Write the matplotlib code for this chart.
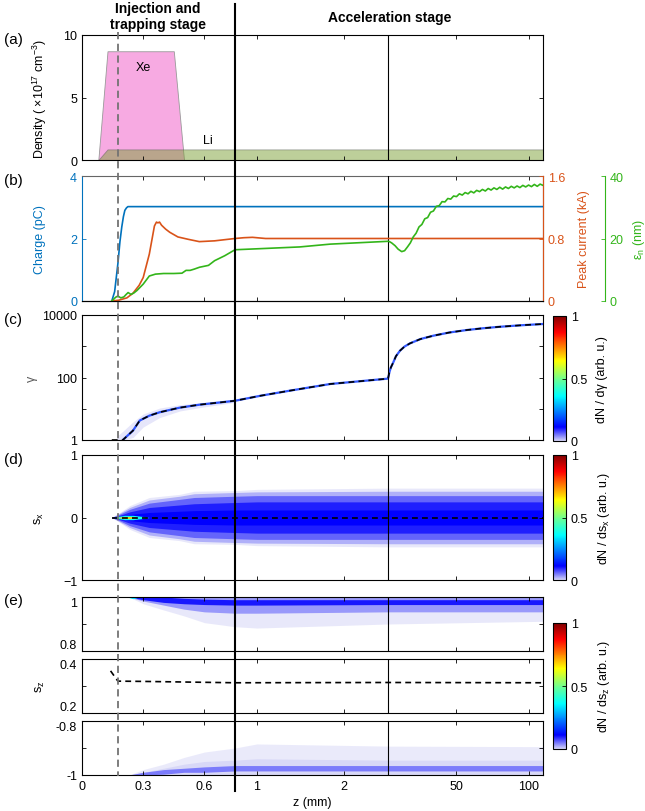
import numpy as np
import matplotlib
matplotlib.use('Agg')
import matplotlib.pyplot as plt
from matplotlib.colors import LinearSegmentedColormap, Normalize
from matplotlib.cm import ScalarMappable
from matplotlib.lines import Line2D

plt.rcParams['font.family'] = ['Liberation Sans', 'DejaVu Sans']
plt.rcParams['font.size'] = 9
plt.rcParams['mathtext.fontset'] = 'custom'
plt.rcParams['mathtext.rm'] = 'Liberation Sans'
plt.rcParams['mathtext.it'] = 'Liberation Sans:italic'
plt.rcParams['axes.linewidth'] = 0.8

#%% Data

# broken z axis: three segments of equal width
z_breaks = [0, 0.75, 2.5, 110]
z_ticks = [0, 0.3, 0.6, 1, 2, 50, 100]
z_ticklabels = ['0', '0.3', '0.6', '1', '2', '50', '100']
stage_boundary = 0.75
injection_z = 0.176
section_z = 2.5

# (a) gas density profiles (x1e17 cm^-3)
xe_z = [0.08, 0.125, 0.45, 0.5]
xe_n = [0, 8.7, 8.7, 0]
li_z = [0.08, 0.125, 110]
li_n = [0, 0.85, 0.85]

# (b) charge, peak current, emittance
charge_z = [0.146, 0.16, 0.176, 0.186, 0.195, 0.203, 0.21, 0.218, 0.225, 110]
charge_pC = [0, 0.3, 1.2, 1.9, 2.37, 2.7, 2.9, 2.98, 3.02, 3.02]

current_z = [0.146, 0.18, 0.22, 0.25, 0.28, 0.30, 0.33, 0.355, 0.365, 0.372,
             0.38, 0.39, 0.41, 0.43, 0.47, 0.52, 0.575, 0.65, 0.75, 0.85,
             0.95, 1.1, 1.3, 2.5, 110]
current_kA = [0, 0.01, 0.04, 0.1, 0.2, 0.3, 0.6, 0.96, 1.01, 1.0,
              1.01, 0.97, 0.92, 0.88, 0.82, 0.79, 0.76, 0.77, 0.80, 0.81,
              0.815, 0.80, 0.80, 0.80, 0.80]

emit_z = [0.146, 0.165, 0.176, 0.19, 0.205, 0.215, 0.226, 0.24, 0.255, 0.27,
          0.3, 0.33, 0.36, 0.40, 0.45, 0.49, 0.51, 0.53, 0.55, 0.576,
          0.62, 0.65, 0.70, 0.75, 1.0, 1.49, 1.84, 2.5, 3.5, 5.0,
          7.4, 9.5, 12, 14, 16, 18, 20, 22, 24, 26,
          28, 30, 32, 34, 36, 38, 40, 42, 44, 46,
          48, 50, 52, 54, 56, 58, 60, 62, 64, 66,
          68, 70, 72, 74, 76, 78, 80, 82, 84, 86,
          88, 90, 92, 94, 96, 98, 100, 102, 104, 106,
          108, 110]
emit_nm = [0, 1.2, 1.6, 1.0, 1.3, 2.0, 2.7, 2.1, 2.6, 3.4,
           5.4, 8.0, 8.6, 8.8, 8.8, 8.9, 9.8, 9.8, 10.2, 10.8,
           11.4, 12.9, 14.5, 16.4, 16.7, 17.3, 18.2, 19.1, 19.0, 18.6,
           17.7, 16.6, 15.8, 16.1, 17.3, 18.6, 20.5, 21.7, 23.7, 24.5,
           26.3, 26.7, 28.4, 28.8, 30.3, 30.5, 31.8, 31.7, 32.8, 32.6,
           33.6, 33.4, 34.3, 33.9, 34.7, 34.3, 35.1, 34.6, 35.4, 35.0,
           35.7, 35.2, 36.0, 35.5, 36.2, 35.7, 36.4, 35.8, 36.5, 36.0,
           36.7, 36.2, 36.8, 36.3, 37.0, 36.5, 37.1, 36.6, 37.3, 36.7,
           37.4, 37.0]

# (c) mean Lorentz factor and spread
gamma_z = [0.146, 0.2, 0.25, 0.283, 0.33, 0.38, 0.478, 0.576, 0.75, 1.04,
           1.38, 1.84, 2.5, 2.7, 3.5, 4.5, 6.2, 8, 10.8, 14,
           17.8, 25, 34, 45, 57, 68, 80, 95, 110]
gamma_mean = [1, 1, 2, 4.2, 6, 7.7, 10.8, 13.5, 18, 26,
              38, 62, 92, 100, 150, 210, 307, 480, 720, 980,
              1240, 1700, 2180, 2750, 3300, 3750, 4200, 4700, 5150]
halo_z = [0.17, 0.2, 0.25, 0.3, 0.38, 0.48, 0.6, 0.75]
halo_lo = [1, 1, 1.2, 2.6, 5.2, 8.5, 11.5, 16]
halo_hi = [1.3, 1.9, 3.8, 6.8, 10.5, 13.5, 16, 20]

# (d) s_x distribution: half widths of density levels
sx_z = [0.146, 0.18, 0.234, 0.33, 0.478, 0.55, 0.75, 1.0, 2.5, 110]
sx_faint = [0, 0.07, 0.19, 0.32, 0.37, 0.42, 0.43, 0.45, 0.47, 0.47]
sx_light = [0, 0.06, 0.16, 0.28, 0.34, 0.38, 0.40, 0.41, 0.42, 0.42]
sx_mid = [0, 0.045, 0.13, 0.23, 0.29, 0.32, 0.34, 0.35, 0.35, 0.35]
sx_core = [0, 0.03, 0.09, 0.16, 0.2, 0.22, 0.24, 0.25, 0.25, 0.25]
sx_inner = [0, 0.02, 0.05, 0.08, 0.1, 0.11, 0.12, 0.12, 0.12, 0.12]
hot_z = [0.155, 0.18, 0.21, 0.25, 0.29, 0.33]
hot_w = [0.0, 0.02, 0.035, 0.035, 0.02, 0.0]
hotcore_z = [0.175, 0.2, 0.24, 0.27]
hotcore_w = [0.0, 0.015, 0.014, 0.0]
sx_mean_z = [0.146, 110]
sx_mean = [0, 0]

# (e) s_z distribution near +1 and -1, and mean
sz_z = [0.23, 0.3, 0.4, 0.5, 0.6, 0.75, 1.0, 2.5, 110]
top_faint = [1.0, 0.975, 0.952, 0.93, 0.905, 0.89, 0.885, 0.90, 0.91]
top_mid = [1.0, 0.985, 0.97, 0.955, 0.945, 0.94, 0.94, 0.945, 0.945]
top_core_lo = [1.0, 0.99, 0.98, 0.975, 0.972, 0.97, 0.97, 0.972, 0.972]
top_core_hi = [1.0, 1.0, 1.0, 0.995, 0.992, 0.99, 0.99, 0.99, 0.99]
bot_faint = [-1.0, -0.98, -0.96, -0.935, -0.915, -0.9, -0.885, -0.893, -0.895]
bot_mid = [-1.0, -0.99, -0.975, -0.96, -0.95, -0.945, -0.94, -0.945, -0.945]
bot_core_lo = [-1.0, -1.0, -0.997, -0.99, -0.99, -0.985, -0.985, -0.985, -0.985]
bot_core_hi = [-1.0, -0.99, -0.98, -0.975, -0.97, -0.965, -0.965, -0.965, -0.965]
sz_mean_z = [0.14, 0.176, 0.3, 0.75, 2.5, 110]
sz_mean = [0.356, 0.318, 0.317, 0.312, 0.313, 0.312]

#%% Colours and colormap

blue = '#0072BD'
orange = '#D95319'
green = '#33B51A'
xe_col = '#F7AAE2'
li_col = (125/255, 161/255, 55/255)

cmap = LinearSegmentedColormap.from_list('lavjet', [
    (0.0, (0.84, 0.84, 0.97)),
    (0.11, (0.0, 0.0, 1.0)),
    (0.36, (0.0, 1.0, 1.0)),
    (0.5, (0.45, 1.0, 0.55)),
    (0.64, (1.0, 1.0, 0.0)),
    (0.87, (1.0, 0.0, 0.0)),
    (1.0, (0.5, 0.0, 0.0))])

#%% Layout helpers

W, H = 645, 812
L, R = 82, 543
u_breaks = [0, 153, 306, R - L]


def fwd(z):
    return np.interp(z, z_breaks, u_breaks)


def inv(u):
    return np.interp(u, u_breaks, z_breaks)


fig = plt.figure(figsize=(W / 100, H / 100), dpi=100)


def px_axes(t, b, l=L, r=R):
    return fig.add_axes([l / W, 1 - b / H, (r - l) / W, (b - t) / H])


def style(ax, labels=False, right=True):
    ax.set_xscale('function', functions=(fwd, inv))
    ax.set_xlim(0, 110)
    ax.set_xticks(z_ticks)
    ax.set_xticklabels(z_ticklabels if labels else [])
    ax.tick_params(direction='in', top=True, right=right, length=3,
                   width=0.6, labelsize=9)
    ax.axvline(section_z, color='k', lw=0.8, zorder=5)


def band(ax, z, lo, hi, lev, alpha=1.0):
    ax.fill_between(z, lo, hi, color=cmap(lev), alpha=alpha, lw=0)


# (a)
ax_a = px_axes(36, 161)
style(ax_a)
ax_a.fill_between(xe_z, 0, xe_n, facecolor=xe_col, edgecolor='0.6', lw=0.6)
ax_a.fill_between(li_z, 0, li_n, facecolor=li_col, alpha=0.5,
                  edgecolor='0.35', lw=0.6)
ax_a.text(0.3, 7.45, 'Xe', ha='center', va='center', fontsize=9)
ax_a.text(0.618, 1.6, 'Li', ha='center', va='center', fontsize=9)
ax_a.set_ylim(0, 10)
ax_a.set_yticks([0, 5, 10])
ax_a.set_ylabel('Density ( ×10$^{17}$ cm$^{-3}$)')
ax_a.yaxis.set_label_coords(-0.072, 0.5)

# (b)
ax_b = px_axes(177, 302)
style(ax_b, right=False)
ax_b.plot(charge_z, charge_pC, color=blue, lw=1.2)
ax_b.set_ylim(0, 4)
ax_b.set_yticks([0, 2, 4])
ax_b.tick_params(axis='y', colors=blue)
ax_b.spines['left'].set_color(blue)
ax_b.spines['top'].set_color('0.4')
ax_b.set_ylabel('Charge (pC)', color=blue)
ax_b.yaxis.set_label_coords(-0.078, 0.5)

ax_b2 = ax_b.twinx()
ax_b2.plot(current_z, current_kA, color=orange, lw=1.2)
ax_b2.set_ylim(0, 1.6)
ax_b2.set_yticks([0, 0.8, 1.6])
ax_b2.set_yticklabels(['0', '0.8', '1.6'])
ax_b2.tick_params(axis='y', colors=orange, direction='in', length=3, width=0.6)
ax_b2.spines['right'].set_color(orange)
ax_b2.spines['left'].set_visible(False)
ax_b2.spines['top'].set_visible(False)
ax_b2.set_ylabel('Peak current (kA)', color=orange)
ax_b2.yaxis.set_label_coords(1.075, 0.5)

ax_b3 = ax_b.twinx()
ax_b3.plot(emit_z, emit_nm, color=green, lw=1.2)
ax_b3.set_ylim(0, 40)
ax_b3.set_yticks([0, 20, 40])
ax_b3.spines['right'].set_position(('axes', 1.134))
ax_b3.spines['right'].set_color(green)
for s in ['left', 'top', 'bottom']:
    ax_b3.spines[s].set_visible(False)
ax_b3.tick_params(axis='y', colors=green, direction='in', length=3, width=0.6)
ax_b3.set_ylabel('ε$_{\\rm n}$ (nm)', color=green)
ax_b3.yaxis.set_label_coords(1.19, 0.5)

# (c)
ax_c = px_axes(316, 441)
style(ax_c)
ax_c.set_yscale('log')
band(ax_c, halo_z, halo_lo, halo_hi, 0.0, alpha=0.6)
ax_c.plot(gamma_z[1:], gamma_mean[1:], color=cmap(0.16), lw=1.6, alpha=0.8,
          solid_capstyle='butt')
ax_c.plot(gamma_z, gamma_mean, color='k', ls='--', lw=1.2, dashes=(3.5, 2.5))
ax_c.set_ylim(1, 1e4)
ax_c.set_yticks([1, 10, 100, 1000, 10000])
ax_c.set_yticklabels(['1', '', '100', '', '10000'])
ax_c.yaxis.set_minor_locator(matplotlib.ticker.NullLocator())
ax_c.set_ylabel('γ', color='0.35')
ax_c.yaxis.set_label_coords(-0.095, 0.5)

# (d)
ax_d = px_axes(456, 581)
style(ax_d)
for w, lev, al in [(sx_faint, 0.0, 0.55), (sx_light, 0.02, 1.0),
                   (sx_mid, 0.06, 1.0), (sx_core, 0.095, 1.0),
                   (sx_inner, 0.11, 1.0)]:
    band(ax_d, sx_z, -np.array(w), w, lev, alpha=al)
band(ax_d, hot_z, -np.array(hot_w), hot_w, 0.38)
band(ax_d, hotcore_z, -np.array(hotcore_w), hotcore_w, 0.68)
ax_d.plot(sx_mean_z, sx_mean, color='k', ls='--', lw=1.2, dashes=(3.5, 2.5))
ax_d.set_ylim(-1, 1)
ax_d.set_yticks([-1, 0, 1])
ax_d.set_ylabel('s$_{\\rm x}$')
ax_d.yaxis.set_label_coords(-0.078, 0.5)

# (e) three stacked windows
ax_e1 = px_axes(598, 652)
style(ax_e1)
band(ax_e1, sz_z, top_faint, 1, 0.0, alpha=0.55)
band(ax_e1, sz_z, top_mid, 1, 0.035)
band(ax_e1, sz_z, top_core_lo, top_core_hi, 0.1)
band(ax_e1, [0.22, 0.25, 0.28], [1, 0.994, 1], 1, 0.35)
ax_e1.set_ylim(0.8, 1)
ax_e1.set_yticks([0.8, 0.9, 1])
ax_e1.set_yticklabels(['0.8', '', '1'])
ax_e1.get_yticklabels()[0].set_va('bottom')
ax_e1.get_yticklabels()[2].set_va('top')

ax_e2 = px_axes(660, 714)
style(ax_e2)
ax_e2.plot(sz_mean_z, sz_mean, color='k', ls='--', lw=1.2, dashes=(3.5, 2.5))
ax_e2.set_ylim(0.2, 0.4)
ax_e2.set_yticks([0.2, 0.3, 0.4])
ax_e2.set_yticklabels(['0.2', '', '0.4'])
ax_e2.get_yticklabels()[0].set_va('bottom')
ax_e2.get_yticklabels()[2].set_va('top')
ax_e2.set_ylabel('s$_{\\rm z}$')
ax_e2.yaxis.set_label_coords(-0.076, 0.5)

ax_e3 = px_axes(722, 776)
style(ax_e3, labels=True)
band(ax_e3, sz_z, -1, bot_faint, 0.0, alpha=0.5)
band(ax_e3, sz_z, -1, bot_mid, 0.0, alpha=0.9)
band(ax_e3, sz_z, bot_core_lo, bot_core_hi, 0.05)
ax_e3.set_ylim(-1, -0.8)
ax_e3.set_yticks([-1, -0.9, -0.8])
ax_e3.set_yticklabels(['-1', '', '-0.8'])
ax_e3.get_yticklabels()[2].set_va('top')
ax_e3.set_xlabel('z (mm)', labelpad=3)

# colorbars
sm = ScalarMappable(norm=Normalize(0, 1), cmap=cmap)
for (t, b), lab in [((317, 442), 'dN / dγ (arb. u.)'),
                    ((456, 581), 'dN / ds$_{\\rm x}$ (arb. u.)'),
                    ((624, 750), 'dN / ds$_{\\rm z}$ (arb. u.)')]:
    cax = px_axes(t, b, l=553, r=566)
    cb = fig.colorbar(sm, cax=cax, ticks=[0, 0.5, 1])
    cb.ax.set_yticklabels(['0', '0.5', '1'])
    cb.ax.tick_params(direction='in', length=3, width=0.6, labelsize=9)
    cb.outline.set_linewidth(0.8)
    cb.set_label(lab, labelpad=6)

# vertical markers across all panels
xb = (L + fwd(stage_boundary)) / W
fig.add_artist(Line2D([xb, xb], [1 - 5 / H, 1 - 792 / H], color='k', lw=1.5))
xi = (L + fwd(injection_z)) / W
fig.add_artist(Line2D([xi, xi], [1 - 33 / H, 1 - 777 / H], color='0.45',
                      lw=1.3, ls=(0, (4, 2.5))))

# headers and panel letters
fig.text(158 / W, 1 - 17 / H, 'Injection and\ntrapping stage', ha='center',
         va='center', fontsize=10, fontweight='bold', linespacing=1.15)
fig.text(390 / W, 1 - 18 / H, 'Acceleration stage', ha='center', va='center',
         fontsize=10, fontweight='bold')
for lab, y in [('(a)', 40), ('(b)', 181), ('(c)', 320), ('(d)', 460), ('(e)', 601)]:
    fig.text(4 / W, 1 - y / H, lab, fontsize=11, va='center')

fig.savefig('out.png', dpi=100)
